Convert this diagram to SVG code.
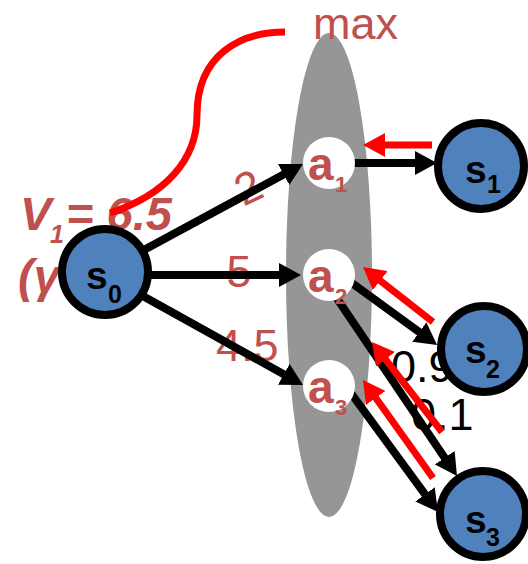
<svg xmlns="http://www.w3.org/2000/svg" width="528" height="564" viewBox="0 0 528 564">
<defs>
<style>
.lbl{font-family:"Liberation Sans",Arial,sans-serif;font-size:45px;fill:#C0504D}
.num{font-family:"Liberation Sans",Arial,sans-serif;font-size:45px;fill:#000}
.v{font-family:"Liberation Sans",Arial,sans-serif;font-weight:bold;font-style:italic;font-size:47px;fill:#C0504D}
.vs{font-family:"Liberation Sans",Arial,sans-serif;font-weight:bold;font-style:italic;font-size:25px;fill:#C0504D}
.an{fill:#fff}
.at{font-family:"Liberation Sans",Arial,sans-serif;font-weight:bold;font-size:46px;fill:#C0504D}
.as{font-family:"Liberation Sans",Arial,sans-serif;font-weight:bold;font-size:22px;fill:#C0504D}
.sn{fill:#4F81BD;stroke:#000;stroke-width:8}
.st{font-family:"Liberation Sans",Arial,sans-serif;font-weight:bold;font-size:39px;fill:#000}
.ss{font-family:"Liberation Sans",Arial,sans-serif;font-weight:bold;font-size:25px;fill:#000}
.blk{stroke:#000;stroke-width:8;fill:none;marker-end:url(#hb)}
.red{stroke:#FF0000;stroke-width:7;fill:none;marker-end:url(#hr)}
</style>
<marker id="hb" markerUnits="userSpaceOnUse" markerWidth="22" markerHeight="24" refX="2" refY="12" orient="auto"><path d="M0,0 L22,12 L0,24 z" fill="#000"/></marker>
<marker id="hr" markerUnits="userSpaceOnUse" markerWidth="22" markerHeight="24" refX="2" refY="12" orient="auto"><path d="M0,0 L22,12 L0,24 z" fill="#FF0000"/></marker>
</defs>
<rect width="528" height="564" fill="#fff"/>
<ellipse id="actions" cx="329" cy="275" rx="43" ry="242" fill="#969696"/>
<g id="value-label">
<text class="v" x="20" y="230">V</text>
<text class="vs" x="50" y="243">1</text>
<text class="v" x="66" y="230">= 6.5</text>
<text class="v" x="18" y="292" font-size="44">(γ</text>
</g>
<g id="edge-labels">
<text class="lbl" transform="translate(248,187) rotate(-25)" x="0" y="16" text-anchor="middle">2</text>
<text class="lbl" x="239" y="287" text-anchor="middle">5</text>
<text class="lbl" x="216" y="361">4.5</text>
<text class="num" x="391" y="382">0.9</text>
<text class="num" x="411" y="430">0.1</text>
<text class="lbl" x="313" y="39" font-size="38">max</text>
</g>
<g id="connectors">
<line class="blk" x1="105" y1="271" x2="285.4" y2="173.5"/>
<line class="blk" x1="105" y1="275" x2="281" y2="275"/>
<line class="blk" x1="105" y1="275" x2="285.5" y2="375.3"/>
<line class="blk" x1="340" y1="163" x2="417" y2="163"/>
<line class="blk" x1="345" y1="278" x2="420.9" y2="333.2"/>
<line class="blk" x1="336" y1="297" x2="445.8" y2="459.4"/>
<line class="blk" x1="345" y1="385" x2="426.2" y2="495.9"/>
<line class="red" x1="432" y1="145" x2="383" y2="145"/>
<line class="red" x1="433" y1="322" x2="378.7" y2="279.4"/>
<line class="red" x1="442" y1="432" x2="384.3" y2="357.8"/>
<line class="red" x1="433" y1="478" x2="374.6" y2="396.3"/>
<path d="M285,32 C240,32 197,55 197,115 C197,160 165,195 110,213" stroke="#FF0000" stroke-width="7" fill="none"/>
</g>
<g id="a1"><circle class="an" cx="329" cy="163" r="26"/><text class="at" x="308" y="180">a</text><text class="as" x="335" y="192">1</text></g>
<g id="a2"><circle class="an" cx="329" cy="275" r="26"/><text class="at" x="308" y="292">a</text><text class="as" x="335" y="304">2</text></g>
<g id="a3"><circle class="an" cx="329" cy="386" r="26"/><text class="at" x="308" y="403">a</text><text class="as" x="335" y="415">3</text></g>
<g id="s0"><circle class="sn" cx="105" cy="272" r="43"/><text class="st" x="86" y="289">s</text><text class="ss" x="108" y="303" font-size="26">0</text></g>
<g id="s1"><circle class="sn" cx="481" cy="166" r="43"/><text class="st" x="465" y="183">s</text><text class="ss" x="487" y="193">1</text></g>
<g id="s2"><circle class="sn" cx="484" cy="349" r="43"/><text class="st" x="465" y="363">s</text><text class="ss" x="486" y="378">2</text></g>
<g id="s3"><circle class="sn" cx="483" cy="514" r="43"/><text class="st" x="465" y="533">s</text><text class="ss" x="486" y="546">3</text></g>
</svg>
